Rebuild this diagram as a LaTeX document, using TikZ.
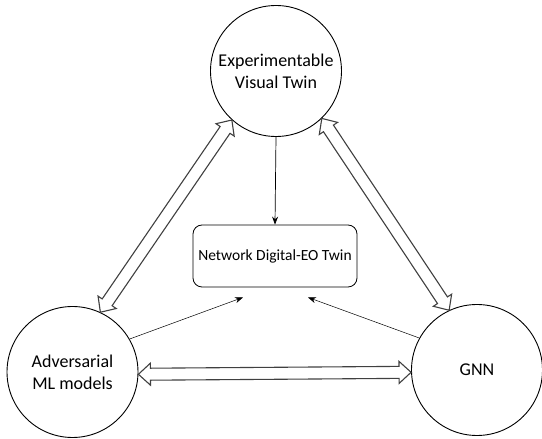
\documentclass[tikz,border=0pt]{standalone}
\usepackage{fontspec}
\setmainfont{Carlito}
\usetikzlibrary{calc,arrows.meta}
\newcommand\hollowarrow[2]{%
  \path (#1) coordinate (hA) (#2) coordinate (hB);
  \draw[harrow] (hA)
    -- ($(hA)!12pt!(hB)!11pt!90:(hB)$)
    -- ($(hA)!12pt!(hB)!6pt!90:(hB)$)
    -- ($(hB)!12pt!(hA)!6pt!-90:(hA)$)
    -- ($(hB)!12pt!(hA)!11pt!-90:(hA)$)
    -- (hB)
    -- ($(hB)!12pt!(hA)!11pt!90:(hA)$)
    -- ($(hB)!12pt!(hA)!6pt!90:(hA)$)
    -- ($(hA)!12pt!(hB)!6pt!-90:(hB)$)
    -- ($(hA)!12pt!(hB)!11pt!-90:(hB)$)
    -- cycle;}
\begin{document}
\begin{tikzpicture}[x=1pt,y=1pt,
  circ/.style={circle,draw,line width=0.9pt,inner sep=0pt,minimum size=131pt,
    font=\fontsize{18}{22}\selectfont,align=center},
  boxn/.style={draw,rounded corners=9pt,line width=0.8pt,minimum width=164pt,
    minimum height=62pt,inner sep=0pt,font=\fontsize{15.5}{18}\selectfont},
  thinarr/.style={-{Stealth[length=8pt,width=6pt]},line width=0.5pt},
  harrow/.style={draw=black!75,line width=1.1pt,line join=miter,fill=white}]
\useasboundingbox (0,0) rectangle (542,439);
\node[circ] (top) at (276,368) {Experimentable\\Visual Twin};
\node[circ] (left) at (72.5,67) {Adversarial\\ML models};
\node[circ] (right) at (477,69) {GNN};
\node[boxn] (twin) at (275,183) {Network Digital-EO Twin};
\draw[thinarr,line width=0.7pt] (top.south) -- (twin.north);
\draw[thinarr] (left.30) -- ([xshift=-32pt,yshift=-10pt]twin.south);
\draw[thinarr] (right.151) -- ([xshift=33pt,yshift=-10pt]twin.south);
\hollowarrow{top.228}{left.65}
\hollowarrow{top.314}{right.115}
\hollowarrow{left.-2}{right.182}
\end{tikzpicture}
\end{document}
